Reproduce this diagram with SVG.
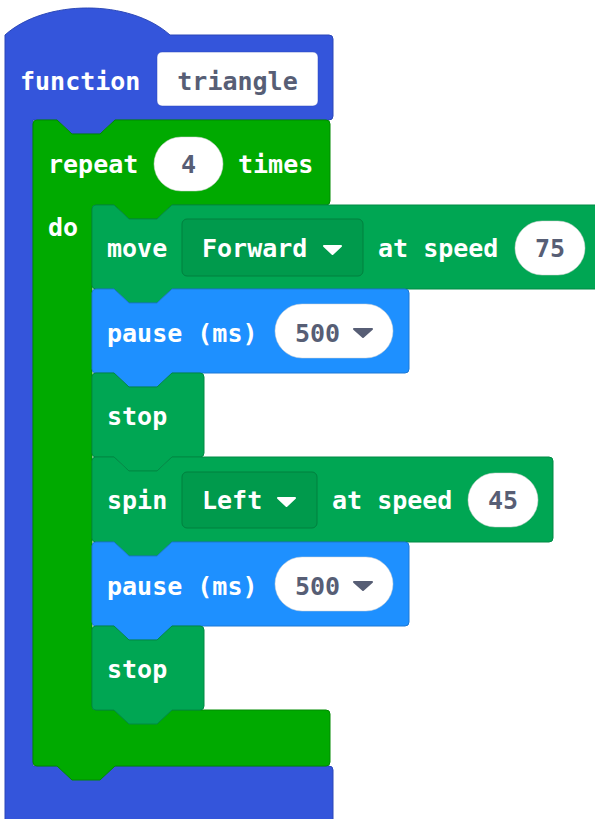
<svg xmlns="http://www.w3.org/2000/svg" width="595" height="819" viewBox="0 0 595 819">
<style>
text{font-family:"DejaVu Sans Mono","Liberation Mono",monospace;font-weight:bold;font-size:25px}
.w{fill:#ffffff}
.g{fill:#575E75}
.fn{fill:#3455DB;stroke:#2B47B8;stroke-width:1}
.loop{fill:#00AA00;stroke:#008A00;stroke-width:1}
.mot{fill:#00A653;stroke:#008A45;stroke-width:1}
.bas{fill:#1E90FF;stroke:#1A78D6;stroke-width:1}
.dd{fill:#009A4C;stroke:#00803F;stroke-width:1}
.ov{fill:#ffffff;stroke:#d0d0d0;stroke-width:0.5}
.aw{fill:#ffffff;stroke:#ffffff;stroke-width:2;stroke-linejoin:round}
.ag{fill:#575E75;stroke:#575E75;stroke-width:2;stroke-linejoin:round}
</style>
<rect width="595" height="819" fill="#ffffff"/>
<g id="function">
<path class="fn" d="M5,35 C45,-1 130,-1 170,35 H329 a4,4 0 0 1 4,4 V116 a4,4 0 0 1 -4,4 H115 l-15,14 h-28 l-15,-14 H33 V766 H329 a4,4 0 0 1 4,4 V830 H5 Z"/>
<text class="w" x="20" y="90">function</text>
<rect x="157" y="52" width="161" height="54" rx="5" fill="#ffffff" stroke="#2B47B8" stroke-width="0.5"/>
<text class="g" x="237.5" y="90" text-anchor="middle">triangle</text>
</g>
<g id="repeat">
<path class="loop" d="M33,124 a4,4 0 0 1 4,-4 H57 l15,14 h28 l15,-14 H326 a4,4 0 0 1 4,4 V201 a4,4 0 0 1 -4,4 H172 l-15,14 h-28 l-15,-14 H96 a4,4 0 0 0 -4,4 V706 a4,4 0 0 0 4,4 H326 a4,4 0 0 1 4,4 V762 a4,4 0 0 1 -4,4 H115 l-15,14 h-28 l-15,-14 H37 a4,4 0 0 1 -4,-4 Z"/>
<text class="w" x="48" y="173">repeat</text>
<rect class="ov" x="154" y="137" width="69" height="54" rx="27"/>
<text class="g" x="188.5" y="173" text-anchor="middle">4</text>
<text class="w" x="238" y="173">times</text>
<text class="w" x="48" y="236">do</text>
</g>
<g id="move">
<path class="mot" d="M92,209 a4,4 0 0 1 4,-4 H114 l15,14 h28 l15,-14 H600 V289 H172 l-15,14 h-28 l-15,-14 H96 a4,4 0 0 1 -4,-4 Z"/>
<text class="w" x="107" y="257">move</text>
<rect class="dd" x="182" y="219" width="181" height="57" rx="5"/>
<text class="w" x="202" y="257">Forward</text>
<path class="aw" d="M324,246 h17 l-8.5,8 z"/>
<text class="w" x="378" y="257">at speed</text>
<rect class="ov" x="515" y="221" width="70" height="54" rx="27"/>
<text class="g" x="550" y="257" text-anchor="middle">75</text>
</g>
<g id="pause1">
<path class="bas" d="M92,293 a4,4 0 0 1 4,-4 H114 l15,14 h28 l15,-14 H405 a4,4 0 0 1 4,4 V369 a4,4 0 0 1 -4,4 H172 l-15,14 h-28 l-15,-14 H96 a4,4 0 0 1 -4,-4 Z"/>
<text class="w" x="107" y="342">pause (ms)</text>
<rect class="ov" x="275" y="304" width="118" height="54" rx="27"/>
<text class="g" x="295" y="342">500</text>
<path class="ag" d="M354,329 h18 l-9,8 z"/>
</g>
<g id="stop1">
<path class="mot" d="M92,377 a4,4 0 0 1 4,-4 H114 l15,14 h28 l15,-14 H200 a4,4 0 0 1 4,4 V453 a4,4 0 0 1 -4,4 H172 l-15,14 h-28 l-15,-14 H96 a4,4 0 0 1 -4,-4 Z"/>
<text class="w" x="107" y="425">stop</text>
</g>
<g id="spin">
<path class="mot" d="M92,461 a4,4 0 0 1 4,-4 H114 l15,14 h28 l15,-14 H549 a4,4 0 0 1 4,4 V538 a4,4 0 0 1 -4,4 H172 l-15,14 h-28 l-15,-14 H96 a4,4 0 0 1 -4,-4 Z"/>
<text class="w" x="107" y="509">spin</text>
<rect class="dd" x="182" y="472" width="135" height="56" rx="5"/>
<text class="w" x="202" y="509">Left</text>
<path class="aw" d="M278,498 h17 l-8.5,8 z"/>
<text class="w" x="332" y="509">at speed</text>
<rect class="ov" x="468" y="473" width="70" height="54" rx="27"/>
<text class="g" x="503" y="509" text-anchor="middle">45</text>
</g>
<g id="pause2">
<path class="bas" d="M92,546 a4,4 0 0 1 4,-4 H114 l15,14 h28 l15,-14 H405 a4,4 0 0 1 4,4 V622 a4,4 0 0 1 -4,4 H172 l-15,14 h-28 l-15,-14 H96 a4,4 0 0 1 -4,-4 Z"/>
<text class="w" x="107" y="595">pause (ms)</text>
<rect class="ov" x="275" y="557" width="118" height="54" rx="27"/>
<text class="g" x="295" y="595">500</text>
<path class="ag" d="M354,582 h18 l-9,8 z"/>
</g>
<g id="stop2">
<path class="mot" d="M92,630 a4,4 0 0 1 4,-4 H114 l15,14 h28 l15,-14 H200 a4,4 0 0 1 4,4 V706 a4,4 0 0 1 -4,4 H172 l-15,14 h-28 l-15,-14 H96 a4,4 0 0 1 -4,-4 Z"/>
<text class="w" x="107" y="678">stop</text>
</g>
<g id="connectors"></g>
</svg>
